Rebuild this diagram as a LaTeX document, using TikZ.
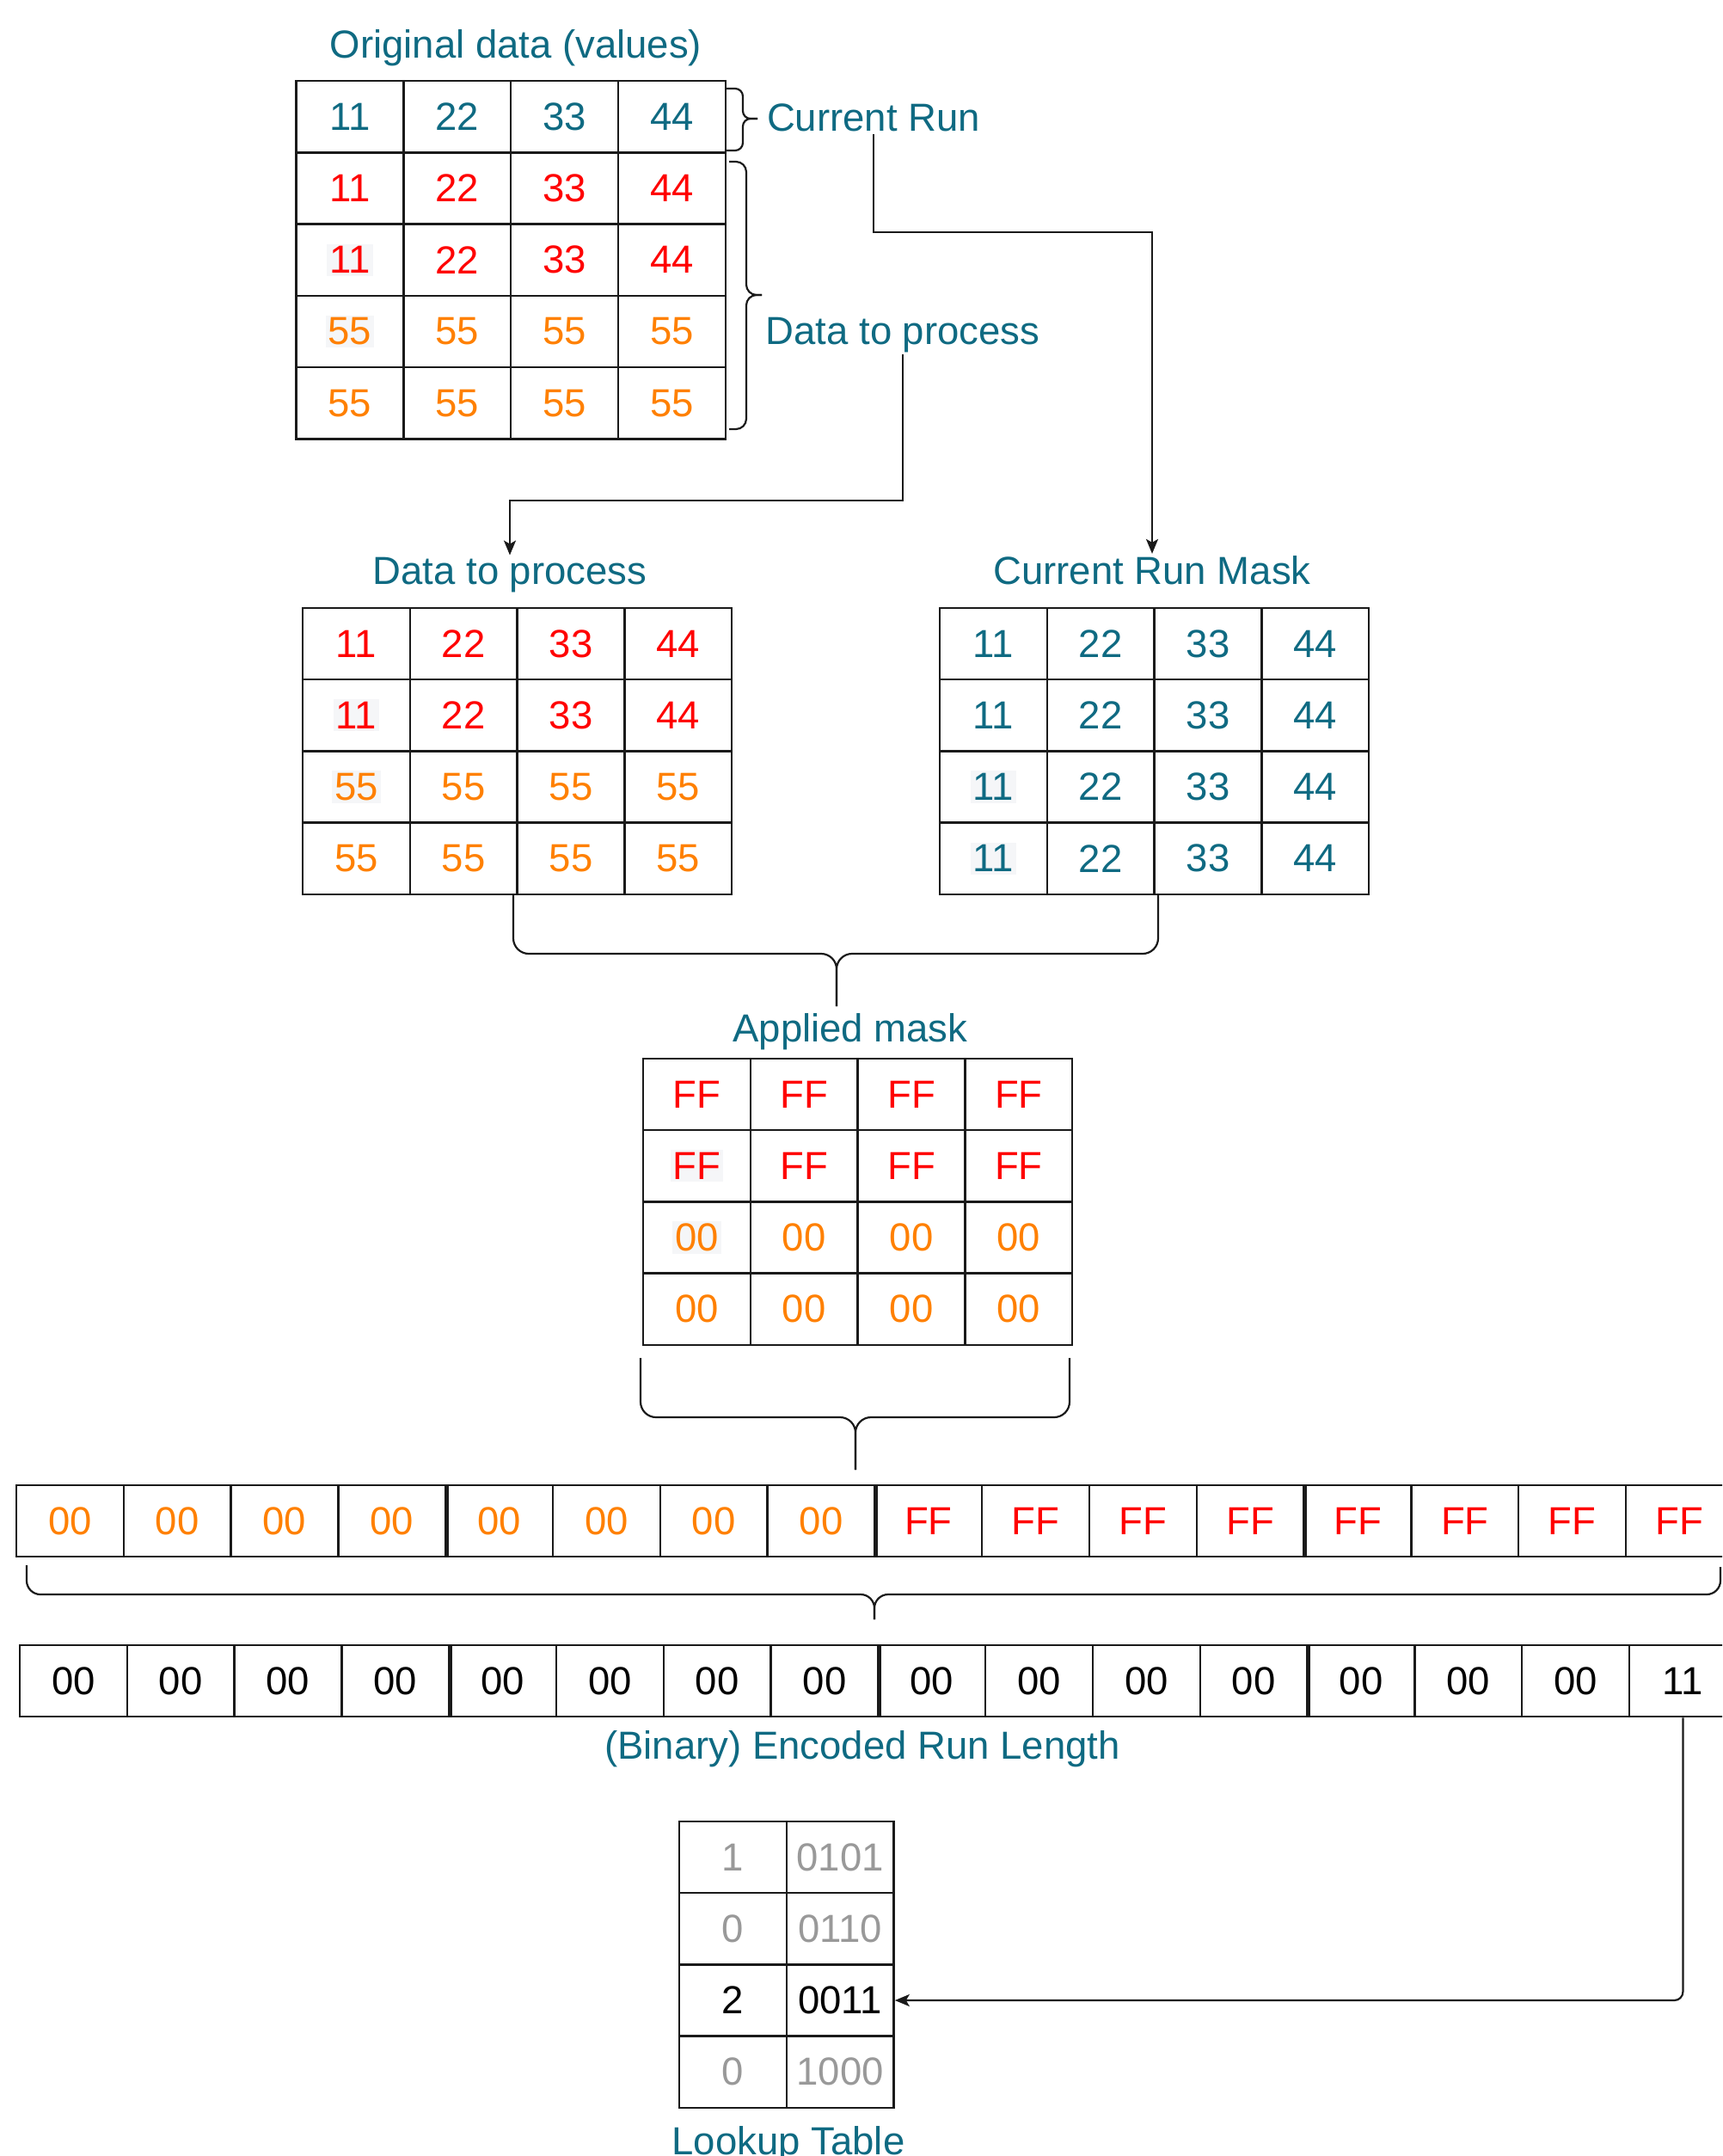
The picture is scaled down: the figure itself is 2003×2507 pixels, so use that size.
\documentclass[tikz,border=0pt]{standalone}
\usepackage{fontspec}
\setmainfont{Liberation Sans}
\usetikzlibrary{arrows.meta}
\definecolor{tl}{HTML}{0F6A82}
\definecolor{rd}{HTML}{FF0000}
\definecolor{og}{HTML}{FF8000}
\definecolor{gy}{HTML}{999999}
\definecolor{bk}{HTML}{000000}
\definecolor{hlc}{HTML}{F5F6F8}
\definecolor{ln}{HTML}{1A1A1A}
\newcommand\hl[1]{{\setlength\fboxsep{3pt}\colorbox{hlc}{#1}}}
\newcommand\bigf{\fontsize{45.5}{54}\selectfont}
\begin{document}
\begin{tikzpicture}[x=1pt,y=-1pt,
  cell/.style={draw=ln,line width=2.4pt,minimum width=124.8pt,minimum height=83.2pt,inner sep=0pt,font=\bigf},
  lbl/.style={text=tl,font=\bigf,inner sep=2pt},
  br/.style={draw=ln,line width=2.2pt,rounded corners=12pt},
  conn/.style={draw=ln,line width=2.2pt,rounded corners=10pt,-{Stealth[length=17pt,width=14pt,inset=4pt]}}]
\useasboundingbox (0,0) rectangle (2003,2507);
\clip (0,0) rectangle (2003,2507);

% ---------- Table 1: original data ----------
\foreach \r/\cl/\a/\b/\c/\d in {1/tl/11/22/33/44, 2/rd/11/22/33/44, 3/rd/\hl{11}/22/33/44, 4/og/\hl{55}/55/55/55, 5/og/55/55/55/55}{
  \foreach \k/\v in {1/\a,2/\b,3/\c,4/\d}{
    \node[cell,text=\cl] (o-\r-\k) at ({344.5+124.8*(\k-0.5)},{94.3+83.2*(\r-0.5)}) {\v};
  }
}
% ---------- Table 2: data to process ----------
\foreach \r/\cl/\a/\b/\c/\d in {1/rd/11/22/33/44, 2/rd/\hl{11}/22/33/44, 3/og/\hl{55}/55/55/55, 4/og/55/55/55/55}{
  \foreach \k/\v in {1/\a,2/\b,3/\c,4/\d}{
    \node[cell,text=\cl] (p-\r-\k) at ({352+124.8*(\k-0.5)},{707+83.2*(\r-0.5)}) {\v};
  }
}
% ---------- Table 3: current run mask ----------
\foreach \r/\a in {1/11, 2/11, 3/\hl{11}, 4/\hl{11}}{
  \foreach \k/\v in {1/\a,2/22,3/33,4/44}{
    \node[cell,text=tl] (m-\r-\k) at ({1093+124.8*(\k-0.5)},{707+83.2*(\r-0.5)}) {\v};
  }
}
% ---------- Table 4: applied mask ----------
\foreach \r/\cl/\a/\b in {1/rd/FF/FF, 2/rd/\hl{FF}/FF, 3/og/\hl{00}/00, 4/og/00/00}{
  \foreach \k/\v in {1/\a,2/\b,3/\b,4/\b}{
    \node[cell,text=\cl] (a-\r-\k) at ({748+124.8*(\k-0.5)},{1231+83.2*(\r-0.5)}) {\v};
  }
}
% ---------- Row 5: flattened mask ----------
\foreach \k in {1,...,16}{
  \pgfmathsetmacro\isff{\k>8}
  \ifdim\isff pt>0.5pt
    \node[cell,text=rd] (r5-\k) at ({19+124.8*(\k-0.5)},{1727+83.2*0.5}) {FF};
  \else
    \node[cell,text=og] (r5-\k) at ({19+124.8*(\k-0.5)},{1727+83.2*0.5}) {00};
  \fi
}
\foreach \k in {4,8,12}{
  \draw[draw=ln,line width=5pt] (r5-\k.north east) -- (r5-\k.south east);
}
% ---------- Row 6: encoded run length ----------
\foreach \k in {1,...,15}{
  \node[cell,text=bk] (r6-\k) at ({23+124.8*(\k-0.5)},{1913+83.2*0.5}) {00};
}
\node[cell,text=bk] (r6-16) at ({23+124.8*15.5},{1913+83.2*0.5}) {11};
\foreach \k in {4,8,12}{
  \draw[draw=ln,line width=5pt] (r6-\k.north east) -- (r6-\k.south east);
}
% ---------- Lookup table ----------
\foreach \r/\cl/\a/\b in {1/gy/1/0101, 2/gy/0/0110, 3/bk/2/0011, 4/gy/0/1000}{
  \node[cell,text=\cl] (lk-\r-1) at ({790+124.8*0.5},{2118+83.2*(\r-0.5)}) {\a};
  \node[cell,text=\cl] (lk-\r-2) at ({790+124.8*1.5},{2118+83.2*(\r-0.5)}) {\b};
}

% ---------- Labels ----------
\node[lbl,anchor=base] (origlbl) at (600,68) {Original data (values)};
\node[lbl,anchor=base] (currun) at (1016,153) {Current Run};
\node[lbl,anchor=base] (dtp) at (1050,400) {Data to process};
\node[lbl,anchor=base] (dtplbl) at (593,679) {Data to process};
\node[lbl,anchor=base] (masklbl) at (1340,679) {Current Run Mask};
\node[lbl,anchor=base] (applbl) at (989,1211) {Applied mask};
\node[lbl,anchor=base] (enclbl) at (1003,2045) {(Binary) Encoded Run Length};
\node[lbl,anchor=base] (lklbl) at (917,2505) {Lookup Table};

% ---------- Braces ----------
\draw[br,rounded corners=9pt] (844,103) -- (864,103) -- (864,138) -- (881,138);
\draw[br,rounded corners=9pt] (881,138) -- (864,138) -- (864,175) -- (844,175);
\draw[br,rounded corners=12pt] (848,188) -- (868,188) -- (868,343) -- (886,343);
\draw[br,rounded corners=12pt] (886,343) -- (868,343) -- (868,499) -- (848,499);

\draw[br,rounded corners=18pt] (597,1040) -- (597,1109) -- (973,1109) -- (973,1170);
\draw[br,rounded corners=18pt] (1347,1040) -- (1347,1109) -- (973,1109) -- (973,1170);

\draw[br,rounded corners=18pt] (745,1579) -- (745,1648) -- (995,1648) -- (995,1709);
\draw[br,rounded corners=18pt] (1244,1579) -- (1244,1648) -- (995,1648) -- (995,1709);

\draw[br,rounded corners=16pt] (31,1820) -- (31,1854) -- (1017,1854) -- (1017,1883);
\draw[br,rounded corners=16pt] (2001,1822) -- (2001,1854) -- (1017,1854) -- (1017,1883);

% ---------- Connectors ----------
\coordinate (k1) at (0,270);
\coordinate (k2) at (0,582);
\draw[conn,rounded corners=0pt] (currun.south) -- (currun.south |- k1) -| (masklbl.north);
\draw[conn,rounded corners=0pt] (dtp.south) -- (dtp.south |- k2) -| (dtplbl.north);
\draw[conn] (r6-16.south) |- (lk-3-2.east);
\end{tikzpicture}
\end{document}
